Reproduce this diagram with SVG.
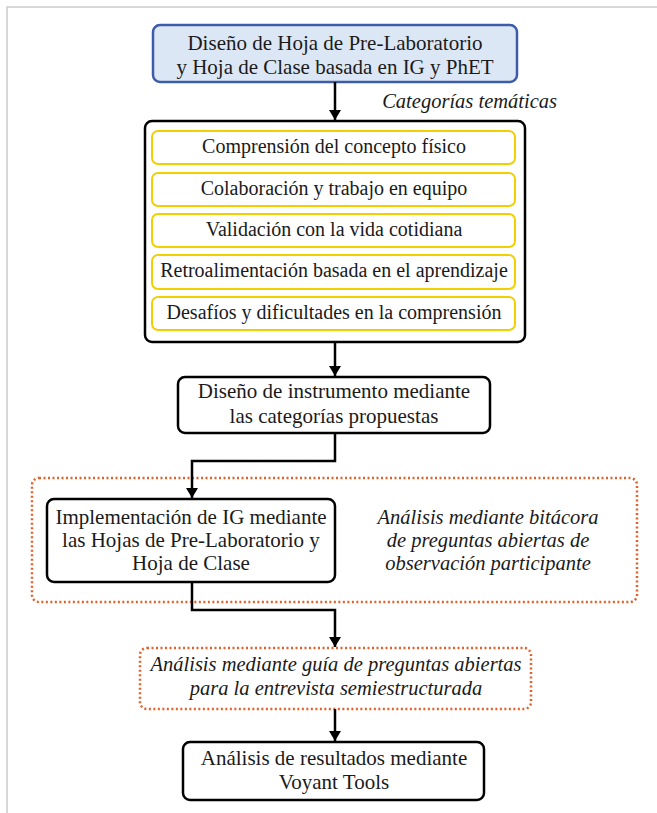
<svg xmlns="http://www.w3.org/2000/svg" width="657" height="813" viewBox="0 0 657 813">
<style>
text{font-family:"Liberation Serif","Times New Roman",serif;font-size:21px;fill:#1a1a1a;text-anchor:middle}
.it{font-style:italic;font-size:20.5px}
.cat{font-size:20px}
.box{fill:#fff;stroke:#000;stroke-width:2.5}
.yb{fill:#fff;stroke:#f2d000;stroke-width:2}
.dot{fill:none;stroke:#e0612a;stroke-width:2.5;stroke-dasharray:2 2.5}
.con{fill:none;stroke:#000;stroke-width:2.5}
</style>
<defs>
<marker id="ah" markerWidth="10" markerHeight="12" refX="10" refY="6" orient="auto" markerUnits="userSpaceOnUse">
<path d="M0,0 L10,6 L0,12 z" fill="#000"/>
</marker>
</defs>
<rect width="657" height="813" fill="#fff"/>
<path d="M7,813 V7 H657" fill="none" stroke="#cccccc" stroke-width="1.5"/>

<g id="n1">
<rect x="153" y="25" width="364" height="57" rx="7" fill="#dce7f5" stroke="#3d5ba9" stroke-width="2.5"/>
<text x="335" y="50">Diseño de Hoja de Pre-Laboratorio</text>
<text x="335" y="74">y Hoja de Clase basada en IG y PhET</text>
</g>

<g id="lbl-cat"><text class="it" x="557" y="108" style="text-anchor:end">Categorías temáticas</text></g>

<g id="n2">
<rect class="box" x="145" y="121" width="380" height="221" rx="7"/>
<g id="c1"><rect class="yb" x="152" y="131" width="363" height="33" rx="6"/><text class="cat" x="334" y="153">Comprensión del concepto físico</text></g>
<g id="c2"><rect class="yb" x="152" y="173" width="363" height="33" rx="6"/><text class="cat" x="334" y="195">Colaboración y trabajo en equipo</text></g>
<g id="c3"><rect class="yb" x="152" y="214" width="363" height="33" rx="6"/><text class="cat" x="334" y="236">Validación con la vida cotidiana</text></g>
<g id="c4"><rect class="yb" x="152" y="255" width="363" height="34" rx="6"/><text class="cat" x="334" y="277">Retroalimentación basada en el aprendizaje</text></g>
<g id="c5"><rect class="yb" x="152" y="297" width="363" height="33" rx="6"/><text class="cat" x="334" y="319">Desafíos y dificultades en la comprensión</text></g>
</g>

<g id="n3">
<rect class="box" x="178" y="377" width="312" height="56" rx="7"/>
<text x="334" y="398">Diseño de instrumento mediante</text>
<text x="334" y="423">las categorías propuestas</text>
</g>

<g id="g-obs">
<rect class="dot" x="32" y="478" width="605" height="124" rx="7"/>
<text class="it" x="488" y="524">Análisis mediante bitácora</text>
<text class="it" x="488" y="547">de preguntas abiertas de</text>
<text class="it" x="488" y="570">observación participante</text>
</g>

<g id="n4">
<rect class="box" x="47" y="499" width="288" height="83" rx="7"/>
<text x="191" y="524">Implementación de IG mediante</text>
<text x="191" y="547">las Hojas de Pre-Laboratorio y</text>
<text x="191" y="570">Hoja de Clase</text>
</g>

<g id="n5">
<rect class="dot" x="140" y="648" width="391" height="61" rx="7"/>
<text class="it" x="336" y="671">Análisis mediante guía de preguntas abiertas</text>
<text class="it" x="336" y="695">para la entrevista semiestructurada</text>
</g>

<g id="n6">
<rect class="box" x="183" y="742" width="301" height="58" rx="7"/>
<text x="334" y="765">Análisis de resultados mediante</text>
<text x="334" y="789">Voyant Tools</text>
</g>

<g id="connectors">
<path class="con" d="M335,82 V120" marker-end="url(#ah)"/>
<path class="con" d="M335,342 V376" marker-end="url(#ah)"/>
<path class="con" d="M335,433 V461 H192 V498" marker-end="url(#ah)"/>
<path class="con" d="M192,582 V610 H335 V647" marker-end="url(#ah)"/>
<path class="con" d="M335,709 V741" marker-end="url(#ah)"/>
</g>
</svg>
